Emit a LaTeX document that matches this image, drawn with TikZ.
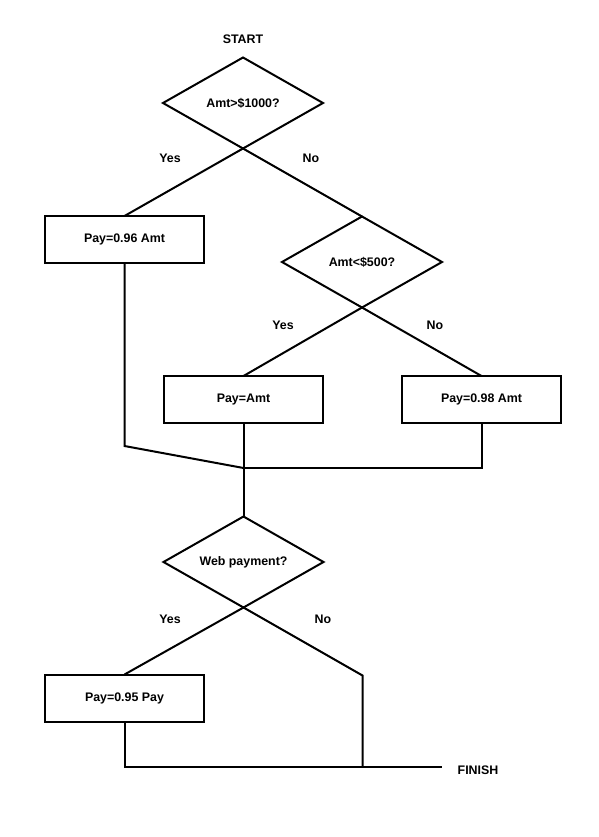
\documentclass[tikz,border=0pt]{standalone}
\usepackage{fontspec}
\setmainfont{Liberation Sans}
\usetikzlibrary{shapes.geometric}
\begin{document}
\begin{tikzpicture}[x=1pt,y=-1pt,line width=2pt,
  every node/.style={font=\bfseries\fontsize{12.4}{14}\selectfont},
  box/.style={draw,minimum width=159pt,minimum height=47pt,inner sep=0pt,outer sep=0pt},
  dec/.style={draw,diamond,aspect=1.76,minimum width=160pt,minimum height=91pt,inner sep=0pt,outer sep=0pt}]
\useasboundingbox (0,0) rectangle (599,837);
\node (start) at (243,39) {START};
\node[dec] (amt1000) at (243,103) {Amt>\$1000?};
\node (yes1) at (170,158) {Yes};
\node (no1) at (311,158) {No};
\node[box] (pay96) at (124.5,239.5) {Pay=0.96 Amt};
\node[dec] (amt500) at (362,262) {Amt<\$500?};
\node (yes2) at (283,325) {Yes};
\node (no2) at (435,325) {No};
\node[box] (payamt) at (243.5,399.5) {Pay=Amt};
\node[box] (pay98) at (481.5,399.5) {Pay=0.98 Amt};
\coordinate (merge) at (243.5,468);
\node[dec] (web) at (243.5,562) {Web payment?};
\node (yes3) at (170,619) {Yes};
\node (no3) at (323,619) {No};
\node[box] (pay95) at (124.5,698) {Pay=0.95 Pay};
\coordinate (nojoin) at (362.5,767);
\coordinate (lineend) at (442,767);
\node (finish) at (478,770) {FINISH};
\draw (amt1000.south) -- (pay96.north);
\draw (amt1000.south) -- (amt500.north);
\draw (amt500.south) -- (payamt.north);
\draw (amt500.south) -- (pay98.north);
\draw (pay96.south) -- ++(0,183) -- (merge);
\draw (payamt.south) -- (merge);
\draw (pay98.south) |- (merge);
\draw (merge) -- (web.north);
\draw (web.south) -- (pay95.north);
\draw (web.south) -- ++(119,68) -- (nojoin);
\draw (pay95.south) |- (lineend);
\end{tikzpicture}
\end{document}
